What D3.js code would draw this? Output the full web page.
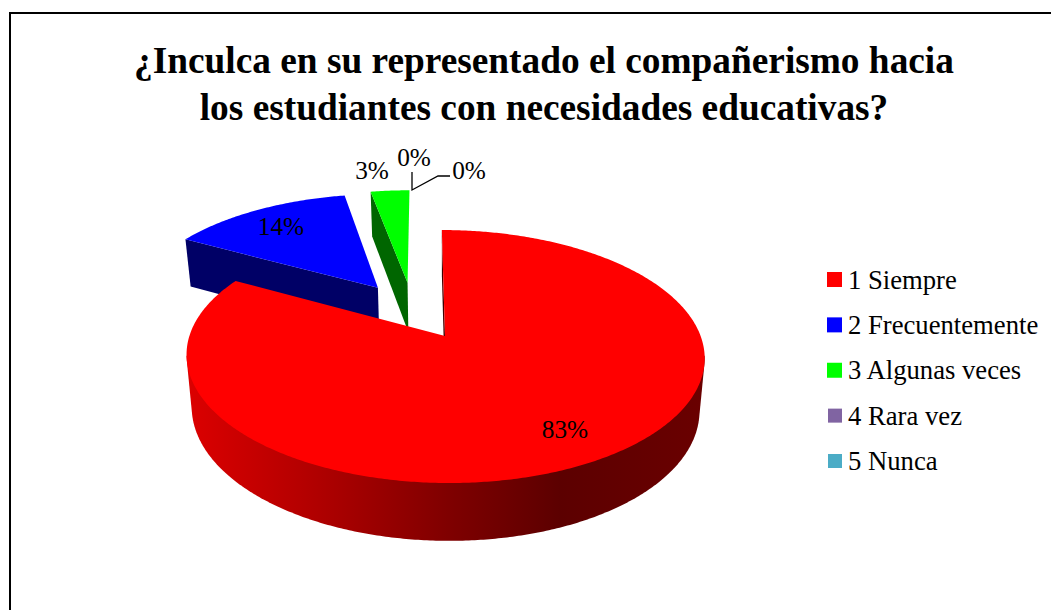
<!DOCTYPE html>
<html><head><meta charset="utf-8">
<script src="https://cdn.jsdelivr.net/npm/d3@7"></script>
<style>html,body{margin:0;padding:0;background:#fff}svg{display:block}text{font-family:"Liberation Serif",serif;fill:#000}</style>
</head><body><svg id="c" width="1051" height="610"></svg>
<script>
const categories=["1 Siempre","2 Frecuentemente","3 Algunas veces","4 Rara vez","5 Nunca"];
const values=[83,14,3,0,0];
const colors=["#ff0000","#0000ff","#00ff00","#8064a2","#4bacc6"];
const sideColors=["#800000","#000066","#006600","#4d3c61","#2d6776"];
const titleLines=["¿Inculca en su representado el compañerismo hacia","los estudiantes con necesidades educativas?"];

const W=1051,H=610;
const svg=d3.select("#c");
const line=d3.line();
svg.append("path").attr("d",line([[10,H],[10,13],[W,13]])).attr("fill","none").attr("stroke","#000").attr("stroke-width",2);

titleLines.forEach((t,i)=>svg.append("text").attr("x",544).attr("y",73+i*47).attr("text-anchor","middle")
  .attr("font-size",37.33).attr("font-weight","bold").text(t));

// projection of the tilted pie plane
const XV=445,YA=336,Y0=310.4,Rx=247,K=115,q=0.1567,shear=0.03,VX=446,explode=0.25,D=50.3,narrow=0.98;
const pie=d3.pie().sort(null).value(d=>d);
const arcs=pie(values);
const mid0=(arcs[0].startAngle+arcs[0].endAngle)/2, uRef=explode*Math.sin(mid0);
function project(u,v,bottom){
  const w=1-q*v;
  const y=Y0+K*v/w;
  const x=XV+Rx*(u-uRef)/w+shear*(y-YA);
  if(!bottom) return [x,y];
  return [VX+(x-VX)*narrow, y+D/Math.pow(w,0.66)];
}
const scene=arcs.map((a,i)=>{
  const mid=(a.startAngle+a.endAngle)/2;
  const o={u:explode*Math.sin(mid),v:-explode*Math.cos(mid)};
  const pt=(ang,b)=>project(o.u+Math.sin(ang),o.v-Math.cos(ang),b);
  return {a,i,o,pt};
});
const rim=(s,a0,a1,b)=>{const n=Math.max(2,Math.ceil(Math.abs(a1-a0)/0.01));
  return d3.range(n+1).map(k=>s.pt(a0+(a1-a0)*k/n,b));};

const defs=svg.append("defs");
const grad=defs.append("linearGradient").attr("id","redSide").attr("gradientUnits","userSpaceOnUse")
  .attr("x1",187).attr("x2",705).attr("y1",0).attr("y2",0);
[[0,"#dc0000"],[0.25,"#b00000"],[0.5,"#800000"],[0.72,"#5c0000"],[1,"#6a0000"]].forEach(d=>grad.append("stop").attr("offset",d[0]).attr("stop-color",d[1]));

const g=svg.append("g");
function drawBack(s){
  const c=project(s.o.u,s.o.v,false), cb=project(s.o.u,s.o.v,true);
  const e0=s.pt(s.a.startAngle,false), e0b=s.pt(s.a.startAngle,true);
  g.append("path").attr("d",line([c,e0,e0b,cb])+"Z").attr("fill",sideColors[s.i]);
  g.append("path").attr("d",line([c,...rim(s,s.a.startAngle,s.a.endAngle,false)])+"Z").attr("fill",colors[s.i]);
}
drawBack(scene[1]);
drawBack(scene[2]);
// red
(function(s){
  const c=project(s.o.u,s.o.v,false), cb=project(s.o.u,s.o.v,true);
  const e0=s.pt(s.a.startAngle,false), e0b=s.pt(s.a.startAngle,true);
  g.append("path").attr("d",line([c,e0,e0b,cb])+"Z").attr("fill","#400000");
  const from=Math.PI*0.55,to=Math.PI*1.45;
  const hull=d3.polygonHull([...rim(s,from,to,false),...rim(s,from,to,true)]);
  g.append("path").attr("d",line(hull)+"Z").attr("fill","url(#redSide)");
  g.append("path").attr("d",line([c,...rim(s,s.a.startAngle,s.a.endAngle,false)])+"Z").attr("fill",colors[s.i]);
})(scene[0]);

// data labels
const labels=[[565,430,0],[281,227,1],[372,171,2],[414,158,3],[469,171,4]];
labels.forEach(l=>svg.append("text").attr("x",l[0]).attr("y",l[1]+8).attr("text-anchor","middle").attr("font-size",25.3)
  .text(Math.round(values[l[2]])+"%"));
svg.append("path").attr("d",line([[412,172],[412,190],[438,176],[450,176]])).attr("fill","none").attr("stroke","#000").attr("stroke-width",1.3);

// legend
const ly=d3.scalePoint().domain(categories).range([279.5,461]);
categories.forEach((c,i)=>{
  const y=ly(c), sz=i<3?15:14;
  svg.append("rect").attr("x",842-sz).attr("y",y-sz/2).attr("width",sz).attr("height",sz).attr("fill",colors[i]);
  svg.append("text").attr("x",848).attr("y",y+9).attr("font-size",26.67).text(c);
});
</script></body></html>
